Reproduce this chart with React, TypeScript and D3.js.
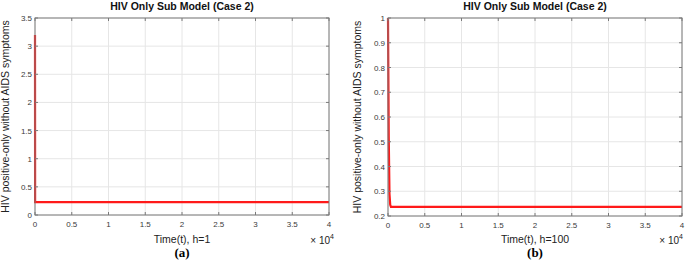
import React from "react";
import * as d3 from "d3";

const titleText = "HIV Only Sub Model (Case 2)";
const yLabelText = "HIV positive-only without AIDS symptoms";

const timeA = [0, 15, 40000];
const valuesA = [3.2, 0.23, 0.23];
const timeB = [0, 100, 200, 300, 400, 40000];
const valuesB = [1.0, 0.52, 0.29, 0.245, 0.237, 0.237];

const xTicks = [0, 0.5, 1, 1.5, 2, 2.5, 3, 3.5, 4];
const yTicksA = [0, 0.5, 1, 1.5, 2, 2.5, 3, 3.5];
const yTicksB = [0.2, 0.3, 0.4, 0.5, 0.6, 0.7, 0.8, 0.9, 1];

type PanelProps = {
  left: number; right: number; top: number; bottom: number;
  times: number[]; values: number[]; yDomain: [number, number]; yTicks: number[];
  xLabel: string; caption: string; yLabelX: number;
};

function Panel(p: PanelProps) {
  const x = d3.scaleLinear().domain([0, 40000]).range([p.left, p.right]);
  const y = d3.scaleLinear().domain(p.yDomain).range([p.bottom, p.top]);
  const pts = p.times.map((t, i) => [t, p.values[i]] as [number, number]);
  const line = d3.line<[number, number]>().x(d => x(d[0])).y(d => y(d[1]));
  const cx = (p.left + p.right) / 2;
  const cy = (p.top + p.bottom) / 2;
  const axisColor = "#7a7a7a";
  const font = "Liberation Sans, Arial, sans-serif";
  const fmt = (v: number) => String(+v.toFixed(2));
  const expX = Math.min(p.right + 5, 683);
  return (
    <g>
      {xTicks.map(t => (
        <line key={"gx" + t} x1={x(t * 1e4)} x2={x(t * 1e4)} y1={p.top} y2={p.bottom} stroke="#e6e6e6" strokeWidth={1} />
      ))}
      {p.yTicks.map(t => (
        <line key={"gy" + t} x1={p.left} x2={p.right} y1={y(t)} y2={y(t)} stroke="#e6e6e6" strokeWidth={1} />
      ))}
      <path d={line(pts) || ""} fill="none" stroke="#ff1a1a" strokeWidth={2.2} />
      <rect x={p.left} y={p.top} width={p.right - p.left} height={p.bottom - p.top} fill="none" stroke={axisColor} strokeWidth={1} />
      {xTicks.map(t => (
        <g key={"tx" + t}>
          <line x1={x(t * 1e4)} x2={x(t * 1e4)} y1={p.bottom} y2={p.bottom - 3} stroke={axisColor} />
          <line x1={x(t * 1e4)} x2={x(t * 1e4)} y1={p.top} y2={p.top + 3} stroke={axisColor} />
          <text x={x(t * 1e4)} y={p.bottom + 12} textAnchor="middle" fontSize={8} fill="#3a3a3a" fontFamily={font}>{fmt(t)}</text>
        </g>
      ))}
      {p.yTicks.map(t => (
        <g key={"ty" + t}>
          <line x1={p.left} x2={p.left + 3} y1={y(t)} y2={y(t)} stroke={axisColor} />
          <line x1={p.right} x2={p.right - 3} y1={y(t)} y2={y(t)} stroke={axisColor} />
          <text x={p.left - 3} y={y(t) + 3} textAnchor="end" fontSize={8} fill="#3a3a3a" fontFamily={font}>{fmt(t)}</text>
        </g>
      ))}
      <text x={cx} y={9.5} textAnchor="middle" fontSize={10.5} fontWeight="bold" fill="#111" fontFamily={font}>{titleText}</text>
      <text transform={`translate(${p.yLabelX},${cy}) rotate(-90)`} textAnchor="middle" fontSize={10.5} fill="#222" fontFamily={font}>{yLabelText}</text>
      <text x={cx} y={243} textAnchor="middle" fontSize={10.5} fill="#222" fontFamily={font}>{p.xLabel}</text>
      <text x={expX} y={244} textAnchor="end" fontSize={10} fill="#222" fontFamily={font}>
        {"\u00d7 10"}<tspan dy={-5} fontSize={7}>4</tspan>
      </text>
      <text x={cx} y={257} textAnchor="middle" fontSize={13} fontWeight="bold" fill="#000" fontFamily="Liberation Serif, Times New Roman, serif">{p.caption}</text>
    </g>
  );
}

export default function App() {
  return (
    <svg width={685} height={267} style={{ position: "absolute", left: 0, top: 0, background: "#fff" }}>
      <Panel left={35} right={329} top={18} bottom={215} times={timeA} values={valuesA} yDomain={[0, 3.5]} yTicks={yTicksA} xLabel="Time(t), h=1" caption="(a)" yLabelX={9} />
      <Panel left={388} right={682} top={18} bottom={216} times={timeB} values={valuesB} yDomain={[0.2, 1]} yTicks={yTicksB} xLabel="Time(t), h=100" caption="(b)" yLabelX={361} />
    </svg>
  );
}
